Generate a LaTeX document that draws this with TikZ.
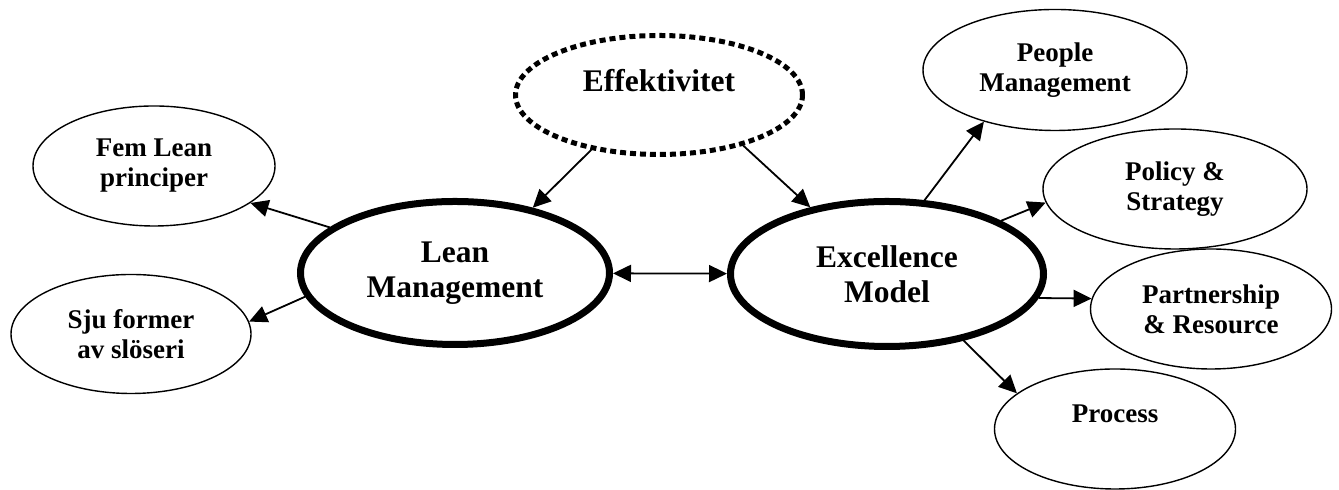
\documentclass[tikz,border=0pt]{standalone}
\usepackage{fontspec}
\setmainfont{Liberation Serif}
\usetikzlibrary{arrows.meta,shapes.geometric}

\begin{document}
\begin{tikzpicture}[x=0.5pt,y=0.5pt,
  >={Triangle[length=9pt,width=8.5pt]},
  bubble/.style={ellipse,draw,line width=0.7pt,inner sep=0pt,align=center,
    font=\fontsize{13.5}{15}\selectfont\bfseries},
  mainbubble/.style={bubble,line width=3.5pt,font=\fontsize{15.75}{17.5}\selectfont\bfseries},
  dotbubble/.style={mainbubble,line width=2.5pt,dash pattern=on 3pt off 2pt},
  link/.style={->,line width=0.9pt}]
\useasboundingbox (0,0) rectangle (1339,490);

\node[dotbubble,minimum width=143.5pt,minimum height=59.5pt] (eff) at (659,395) {Effektivitet\\[-3pt]~};
\node[mainbubble,minimum width=154.5pt,minimum height=71.5pt] (lean) at (455,217) {Lean\\Management};
\node[mainbubble,minimum width=156.5pt,minimum height=72.5pt] (exc) at (887,216) {Excellence\\Model};
\node[bubble,minimum width=121pt,minimum height=60pt] (fem) at (154,324) {Fem Lean\\principer};
\node[bubble,minimum width=120pt,minimum height=59.5pt] (sju) at (131,156) {Sju former\\av slöseri};
\node[bubble,minimum width=132pt,minimum height=60.5pt] (ppl) at (1055,420) {People\\Management};
\node[bubble,minimum width=132pt,minimum height=60pt] (pol) at (1175,301) {Policy \&\\Strategy};
\node[bubble,minimum width=120.5pt,minimum height=60pt] (par) at (1211,181) {Partnership\\\& Resource};
\node[bubble,minimum width=120.5pt,minimum height=60pt] (pro) at (1115,61) {Process\\~};

\draw[link] (eff.219) -- (lean.40);
\draw[link] (eff.329) -- (exc.139);
\draw[link] (lean.160) -- (fem.339);
\draw[link] (lean.189) -- (sju.6);
\draw[link,<->] (lean) -- (exc);
\draw[link] (exc.63) -- (ppl.216);
\draw[link] (exc.25) -- (pol.186);
\draw[link] (exc.351) -- (par.175);
\draw[link] (exc.319) -- (pro.160);
\end{tikzpicture}
\end{document}
